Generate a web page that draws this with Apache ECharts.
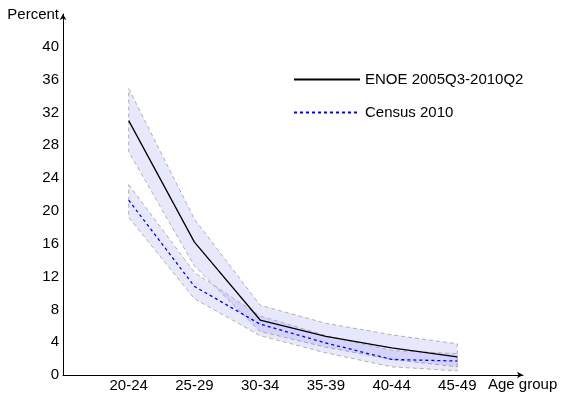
<!DOCTYPE html>
<html>
<head>
<meta charset="utf-8">
<script src="https://cdn.jsdelivr.net/npm/echarts@6/dist/echarts.min.js"></script>
<style>html,body{margin:0;padding:0;background:#fff}#c{width:561px;height:394px}</style>
</head>
<body>
<div id="c"></div>
<script>
const categories = ['20-24', '25-29', '30-34', '35-39', '40-44', '45-49'];
const enoe   = [31.0, 16.2, 6.7, 4.7, 3.3, 2.2];
const enoeLo = [27.2, 13.3, 5.3, 3.4, 1.9, 1.0];
const enoeHi = [34.9, 19.0, 8.5, 6.3, 4.9, 3.8];
const census   = [21.3, 10.8, 6.2, 3.9, 1.9, 1.7];
const censusLo = [19.2, 9.3, 4.8, 2.7, 1.0, 0.5];
const censusHi = [23.2, 12.5, 7.2, 4.8, 3.0, 2.6];
const yTicks = [0, 4, 8, 12, 16, 20, 24, 28, 32, 36, 40];

const FONT = 'Liberation Sans';
const FS = 15;

function band(name, lo, hi) {
  return {
    name: name,
    type: 'custom',
    z: 1,
    silent: true,
    data: categories.map((c, i) => [i + 1, lo[i], hi[i]]),
    encode: { x: 0, y: [1, 2] },
    renderItem: function (params, api) {
      if (params.dataIndex !== 0) return;
      const pts = [];
      for (let i = 0; i < hi.length; i++) pts.push(api.coord([i + 1, hi[i]]));
      for (let i = lo.length - 1; i >= 0; i--) pts.push(api.coord([i + 1, lo[i]]));
      return {
        type: 'polygon',
        shape: { points: pts },
        style: { fill: 'rgba(40,40,235,0.105)', stroke: '#b0b0b0', lineWidth: 1, lineDash: [4, 3] }
      };
    }
  };
}

const chart = echarts.init(document.getElementById('c'));
chart.setOption({
  animation: false,
  grid: { left: 63, right: 38, top: 14, bottom: 19 },
  legend: {
    orient: 'vertical',
    left: 293,
    top: 72,
    padding: 0,
    itemWidth: 66,
    itemHeight: 14,
    itemGap: 18,
    itemStyle: { opacity: 0 },
    data: ['ENOE 2005Q3-2010Q2', 'Census 2010'],
    textStyle: { fontFamily: FONT, fontSize: FS, color: '#000' }
  },
  xAxis: {
    type: 'value',
    min: 0,
    max: 7,
    interval: 1,
    name: 'Age group',
    nameLocation: 'end',
    nameGap: -35,
    nameTextStyle: { fontFamily: FONT, fontSize: FS, color: '#000', align: 'left', verticalAlign: 'top', padding: [2, 0, 0, 0] },
    axisLine: { lineStyle: { color: '#000', width: 1 }, symbol: ['none', 'arrow'], symbolSize: [5, 6] },
    axisTick: { show: false },
    splitLine: { show: false },
    axisLabel: {
      margin: 3,
      fontFamily: FONT, fontSize: FS, color: '#000',
      formatter: v => categories[v - 1] || ''
    }
  },
  yAxis: {
    type: 'value',
    min: 0,
    max: 44,
    interval: 4,
    name: 'Percent',
    nameLocation: 'end',
    nameGap: -1,
    nameTextStyle: { fontFamily: FONT, fontSize: FS, color: '#000', align: 'right', verticalAlign: 'middle', padding: [0, 4, 0, 0] },
    axisLine: { show: true, lineStyle: { color: '#000', width: 1 }, symbol: ['none', 'arrow'], symbolSize: [5, 6] },
    axisTick: { show: false },
    splitLine: { show: false },
    axisLabel: {
      margin: 4,
      fontFamily: FONT, fontSize: FS, color: '#000',
      formatter: v => (yTicks.indexOf(v) >= 0 ? String(v) : '')
    }
  },
  series: [
    band('ENOE band', enoeLo, enoeHi),
    band('Census band', censusLo, censusHi),
    {
      name: 'ENOE 2005Q3-2010Q2',
      type: 'line',
      z: 3,
      symbol: 'none',
      data: enoe.map((v, i) => [i + 1, v]),
      lineStyle: { color: '#000', width: 1.3 },
      itemStyle: { color: '#000' }
    },
    {
      name: 'Census 2010',
      type: 'line',
      z: 3,
      symbol: 'none',
      data: census.map((v, i) => [i + 1, v]),
      lineStyle: { color: '#0000ff', width: 1.3, type: [3, 3] },
      itemStyle: { color: '#0000ff' }
    }
  ]
});
</script>
</body>
</html>
